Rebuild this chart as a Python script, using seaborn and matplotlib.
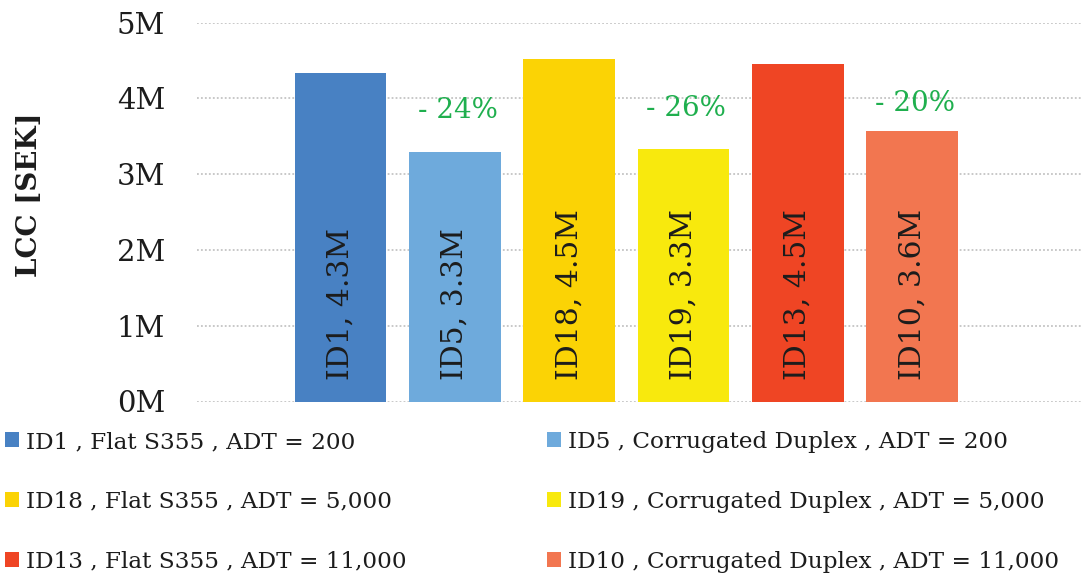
import matplotlib
matplotlib.use("Agg")
import matplotlib.pyplot as plt
from matplotlib.patches import Patch
import pandas as pd
import seaborn as sns

# Life-cycle cost per bridge design (million SEK)
design_ids = ["ID1", "ID5", "ID18", "ID19", "ID13", "ID10"]
lcc_msek = [4.33, 3.29, 4.52, 3.33, 4.46, 3.57]
deck_types = ["Flat S355", "Corrugated Duplex", "Flat S355",
              "Corrugated Duplex", "Flat S355", "Corrugated Duplex"]
adt_labels = ["200", "200", "5,000", "5,000", "11,000", "11,000"]
bar_colors = ["#4881c3", "#6eaadc", "#fbd305", "#f8e90d", "#ef4524", "#f27650"]

# Pairs (flat, corrugated) compared by relative saving
pairs = [(0, 1), (2, 3), (4, 5)]

W, H, DPI = 1081, 579, 100
sns.set_style("white")
plt.rcParams["font.family"] = ["DejaVu Serif"]
text_color = "#1c1c1c"

df = pd.DataFrame({"design": design_ids, "lcc": lcc_msek})

fig = plt.figure(figsize=(W / DPI, H / DPI), dpi=DPI)
ax = fig.add_axes([197 / W, 1 - 401.5 / H, 884 / W, (401.5 - 22.7) / H])

sns.barplot(data=df, x="design", y="lcc", hue="design", order=design_ids,
            hue_order=design_ids, palette=bar_colors, width=0.8,
            saturation=1, legend=False, ax=ax, zorder=3, linewidth=0)

ax.set_ylim(0, 5)
ax.set_xlim(-1.255, 6.476)
ax.set_yticks(range(0, 6))
ax.yaxis.set_major_formatter(matplotlib.ticker.FuncFormatter(lambda v, _: f"{v:.0f}M"))
ax.tick_params(axis="y", length=0, pad=23, labelsize=21, labelcolor=text_color)
ax.set_xticks([])
ax.set_xlabel("")
for s in ax.spines.values():
    s.set_visible(False)
ax.grid(axis="y", color="#c4c4c4", linewidth=1.3, linestyle=(0, (1, 1.2)), zorder=0)
ax.set_axisbelow(True)

ax.set_ylabel("LCC [SEK]", fontsize=20, fontweight="bold", color=text_color,
              va="center", rotation_mode="anchor")
ax.yaxis.set_label_coords((30 - 197) / 884, (401.5 - 195) / (401.5 - 22.7))

# Value labels written upward from the base of each bar
for i, (d, v) in enumerate(zip(design_ids, lcc_msek)):
    ax.annotate(f"{d}, {v:.1f}M", xy=(i, 0), xytext=(0, 15.5),
                textcoords="offset points", rotation=90, ha="center",
                va="bottom", fontsize=21.5, color=text_color, zorder=4)

# Relative saving of the corrugated deck against the flat deck
saving_offsets_pt = [30, 29.5, 20]
for (a, b), off in zip(pairs, saving_offsets_pt):
    pct = (lcc_msek[a] - lcc_msek[b]) / lcc_msek[a] * 100
    ax.annotate(f"- {pct:.0f}%", xy=(b, lcc_msek[b]), xytext=(2, off),
                textcoords="offset points", ha="center", va="center",
                fontsize=20, color="#1faf4e", zorder=4)

# Legend in two columns: flat decks left, corrugated decks right
labels = [f"{d} , {t} , ADT = {a}" for d, t, a in zip(design_ids, deck_types, adt_labels)]
handles = [Patch(facecolor=c, edgecolor="none") for c in bar_colors]
legend_kw = dict(frameon=False, fontsize=16.7, loc="upper left",
                 handlelength=0.62, handleheight=0.62, handletextpad=0.28,
                 labelspacing=1.63, borderpad=0, borderaxespad=0,
                 labelcolor=text_color)
col_x = [5, 547]
for k, x0 in enumerate(col_x):
    idx = [j for j in range(len(design_ids)) if j % 2 == k]
    leg = fig.legend([handles[j] for j in idx], [labels[j] for j in idx],
                     bbox_to_anchor=(x0 / W, 1 - 431 / H), **legend_kw)

fig.savefig("out.png", dpi=DPI)
